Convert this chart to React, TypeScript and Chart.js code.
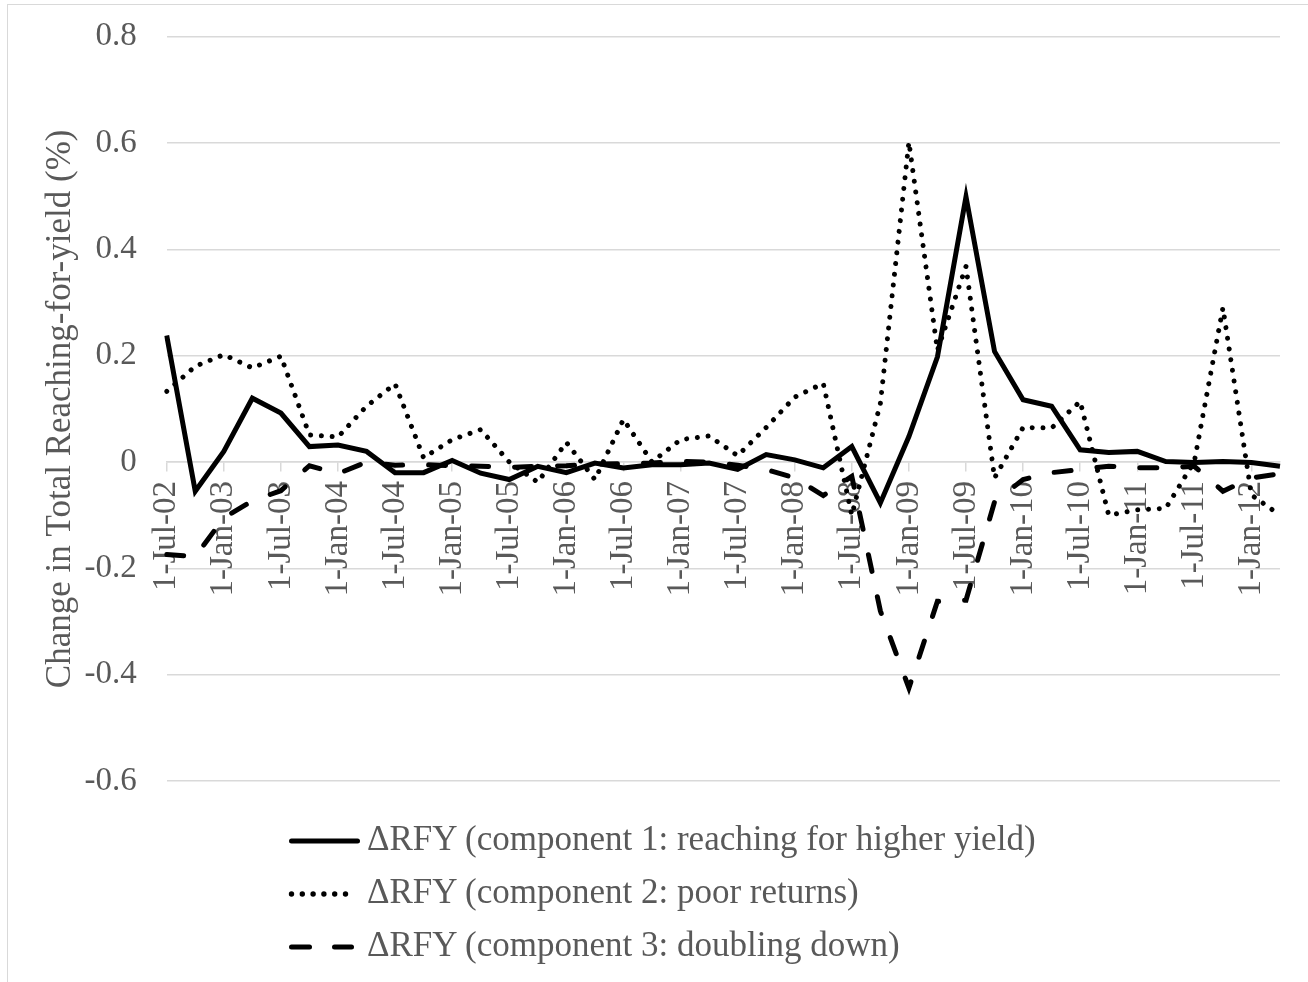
import React, { useEffect, useRef } from "react";
import { Chart, registerables } from "chart.js";

Chart.register(...registerables);

const DATES = [
  "1-Jul-02", "1-Oct-02", "1-Jan-03", "1-Apr-03", "1-Jul-03", "1-Oct-03",
  "1-Jan-04", "1-Apr-04", "1-Jul-04", "1-Oct-04", "1-Jan-05", "1-Apr-05",
  "1-Jul-05", "1-Oct-05", "1-Jan-06", "1-Apr-06", "1-Jul-06", "1-Oct-06",
  "1-Jan-07", "1-Apr-07", "1-Jul-07", "1-Oct-07", "1-Jan-08", "1-Apr-08",
  "1-Jul-08", "1-Oct-08", "1-Jan-09", "1-Apr-09", "1-Jul-09", "1-Oct-09",
  "1-Jan-10", "1-Apr-10", "1-Jul-10", "1-Oct-10", "1-Jan-11", "1-Apr-11",
  "1-Jul-11", "1-Oct-11", "1-Jan-12", "1-Apr-12",
];

const COMPONENT_1 = [
  0.238, -0.055, 0.02, 0.12, 0.092, 0.029, 0.032, 0.02, -0.02, -0.02,
  0.003, -0.021, -0.033, -0.008, -0.02, -0.002, -0.011, -0.005, -0.005, -0.002,
  -0.014, 0.014, 0.004, -0.011, 0.029, -0.077, 0.048, 0.198, 0.499, 0.208,
  0.117, 0.105, 0.023, 0.018, 0.02, 0.001, -0.001, 0.001, -0.001, -0.008,
];

const COMPONENT_2 = [
  0.133, 0.18, 0.202, 0.177, 0.199, 0.051, 0.047, 0.105, 0.147, 0.008,
  0.042, 0.061, 0.0, -0.038, 0.037, -0.033, 0.08, 0.0, 0.042, 0.049,
  0.012, 0.065, 0.122, 0.148, -0.1, 0.11, 0.602, 0.21, 0.368, -0.03,
  0.065, 0.064, 0.114, -0.1, -0.09, -0.087, 0.001, 0.29, -0.062, -0.1,
];

const COMPONENT_3 = [
  -0.174, -0.178, -0.105, -0.073, -0.054, -0.007, -0.022, 0.0, -0.006, -0.005,
  -0.007, -0.008, -0.01, -0.008, -0.007, -0.004, -0.003, -0.002, 0.001, 0.0,
  -0.006, -0.014, -0.03, -0.063, -0.027, -0.28, -0.425, -0.262, -0.26, -0.075,
  -0.033, -0.02, -0.014, -0.008, -0.011, -0.011, -0.008, -0.055, -0.03, -0.022,
];

const SERIES_NAMES = [
  "\u0394RFY (component 1: reaching for higher yield)",
  "\u0394RFY (component 2: poor returns)",
  "\u0394RFY (component 3: doubling down)",
];

const Y_TITLE = "Change in Total Reaching-for-yield (%)";

const FONT = "'Liberation Serif', 'Times New Roman', serif";
const TEXT = "#595959";
const GRID = "#d9d9d9";

export default function App() {
  const ref = useRef<HTMLCanvasElement | null>(null);

  useEffect(() => {
    if (!ref.current) return;
    const chart = new Chart(ref.current, {
      type: "line",
      data: {
        labels: DATES,
        datasets: [
          {
            label: SERIES_NAMES[0],
            data: COMPONENT_1,
            borderColor: "#000",
            borderWidth: 5,
            pointRadius: 0,
            fill: false,
            tension: 0,
          },
          {
            label: SERIES_NAMES[1],
            data: COMPONENT_2,
            borderColor: "#000",
            borderWidth: 5,
            borderDash: [0.001, 10.8],
            borderCapStyle: "round",
            pointRadius: 0,
            fill: false,
            tension: 0,
          },
          {
            label: SERIES_NAMES[2],
            data: COMPONENT_3,
            borderColor: "#000",
            borderWidth: 5,
            borderDash: [17, 26],
            borderCapStyle: "round",
            pointRadius: 0,
            fill: false,
            tension: 0,
          },
        ],
      },
      options: {
        animation: false,
        responsive: false,
        devicePixelRatio: 1,
        layout: { padding: { left: 16.7, top: 36.7, right: 28, bottom: 201 } },
        plugins: {
          legend: { display: false },
          tooltip: { enabled: false },
        },
        scales: {
          x: {
            type: "category",
            position: { y: 0 } as any,
            offset: false,
            afterFit: (s: any) => {
              s.paddingLeft = 0;
              s.paddingRight = 0;
            },
            grid: {
              drawOnChartArea: false,
              drawTicks: true,
              tickLength: 9,
              lineWidth: 1.5,
              color: (ctx: any) => (ctx.index % 2 === 0 ? GRID : "rgba(0,0,0,0)"),
            },
            border: { display: true, color: GRID, width: 1.5 },
            ticks: {
              autoSkip: false,
              maxRotation: 90,
              minRotation: 90,
              padding: 10,
              color: TEXT,
              font: { family: FONT, size: 33 },
              callback: (_v: any, i: number) => (i % 2 === 0 ? DATES[i] : ""),
            },
          },
          y: {
            min: -0.6,
            max: 0.8,
            afterFit: (s: any) => {
              s.width = 150;
              s.paddingTop = 0;
              s.paddingBottom = 0;
            },
            grid: { color: GRID, lineWidth: 1.5, drawTicks: false },
            border: { display: false },
            ticks: {
              stepSize: 0.2,
              padding: 30,
              color: TEXT,
              font: { family: FONT, size: 33 },
              callback: (v: any) => {
                const n = Math.round(Number(v) * 10) / 10;
                return n === 0 ? "0" : String(n);
              },
            },
            title: {
              display: true,
              text: Y_TITLE,
              color: TEXT,
              font: { family: FONT, size: 35 },
              padding: { top: 23, bottom: 0 },
            },
          },
        },
      },
    });
    return () => chart.destroy();
  }, []);

  const rows = [841, 894, 947];
  const textStyle: React.CSSProperties = {
    position: "absolute",
    left: 367,
    fontFamily: FONT,
    fontSize: 35,
    lineHeight: "35px",
    color: TEXT,
    whiteSpace: "nowrap",
  };

  return (
    <div
      style={{
        position: "fixed",
        left: 0,
        top: 0,
        width: 1308,
        height: 982,
        overflow: "hidden",
        background: "#fff",
      }}
    >
      <div
        style={{
          position: "absolute",
          left: 7,
          top: 4,
          width: 1400,
          height: 1100,
          border: `1.5px solid ${GRID}`,
          boxSizing: "border-box",
        }}
      />
      <canvas
        ref={ref}
        width={1308}
        height={982}
        style={{ position: "absolute", left: 0, top: 0, width: 1308, height: 982 }}
      />
      <svg
        width={90}
        height={140}
        style={{ position: "absolute", left: 280, top: rows[0] - 10 }}
      >
        <line x1={11.5} y1={10} x2={77.5} y2={10} stroke="#000" strokeWidth={5} strokeLinecap="round" />
        {[0, 1, 2, 3, 4, 5].map((k) => (
          <circle key={k} cx={11.5 + k * 10.8} cy={10 + rows[1] - rows[0]} r={2.7} fill="#000" />
        ))}
        <line x1={11.5} y1={10 + rows[2] - rows[0]} x2={29.5} y2={10 + rows[2] - rows[0]} stroke="#000" strokeWidth={5} strokeLinecap="round" />
        <line x1={54.5} y1={10 + rows[2] - rows[0]} x2={71.5} y2={10 + rows[2] - rows[0]} stroke="#000" strokeWidth={5} strokeLinecap="round" />
      </svg>
      {SERIES_NAMES.map((name, i) => (
        <div key={i} style={{ ...textStyle, top: rows[i] + 9 - 29.3 }}>
          {name}
        </div>
      ))}
    </div>
  );
}
